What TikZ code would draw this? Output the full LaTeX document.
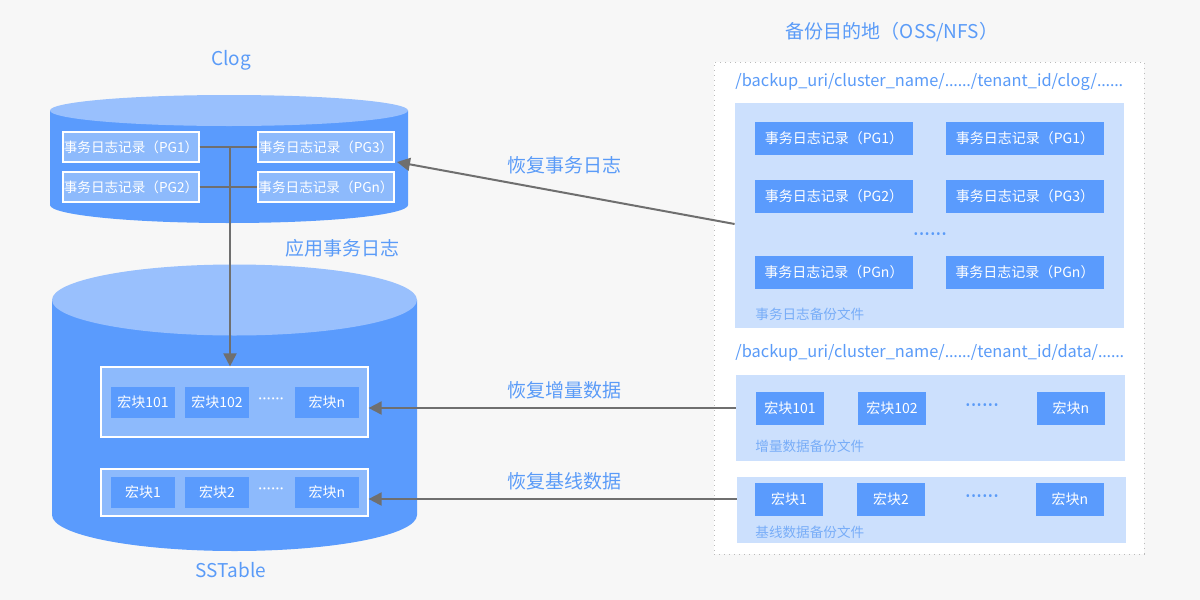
\documentclass[tikz,border=0pt]{standalone}
\usepackage{fontspec}
\setmainfont{Noto Sans CJK SC}
\newfontfamily\latinf{Noto Sans}
\usetikzlibrary{arrows.meta,calc}
\definecolor{bg}{HTML}{F7F7F7}
\definecolor{body}{HTML}{5A9BFD}
\definecolor{topc}{HTML}{99C0FD}
\definecolor{inner}{HTML}{8DBAFC}
\definecolor{pale}{HTML}{CCE0FD}
\definecolor{txtblue}{HTML}{5A9BF8}
\definecolor{lbl}{HTML}{78ADF8}
\definecolor{arr}{HTML}{6F6F6F}
\definecolor{dotb}{HTML}{BBBBBB}
\newcommand{\myell}{{\latinf ……}}
\tikzset{
  rec/.style={draw=white, line width=0.6pt, fill=inner, text=white, minimum width=68pt, minimum height=15pt, inner sep=0pt, font=\fontsize{6.8}{8}\selectfont},
  grp/.style={draw=white, line width=0.6pt, fill=inner, minimum width=133.5pt, inner sep=0pt},
  blk/.style={fill=body, text=white, minimum width=32pt, minimum height=15.5pt, inner sep=0pt, font=\fontsize{7}{8}\selectfont},
  rblk/.style={fill=body, text=white, minimum width=34pt, minimum height=16.5pt, inner sep=0pt, font=\fontsize{7}{8}\selectfont},
  rrec/.style={fill=body, text=white, minimum width=79pt, minimum height=16.5pt, inner sep=0pt, font=\fontsize{7}{8}\selectfont},
  pbox/.style={fill=pale, minimum width=194.5pt, inner sep=0pt},
  biglbl/.style={text=txtblue, inner sep=0pt, font=\fontsize{9.5}{11}\selectfont},
  pathtxt/.style={text=txtblue, inner sep=0pt, anchor=west, font=\fontsize{8.2}{9}\selectfont},
  smlbl/.style={text=lbl, inner sep=0pt, anchor=west, font=\fontsize{6.8}{8}\selectfont},
  wdots/.style={text=white, inner sep=0pt, font=\latinf\fontsize{8}{9}\selectfont},
  bdots/.style={text=txtblue, inner sep=0pt, font=\latinf\fontsize{10.5}{11}\selectfont},
  conn/.style={draw=arr, line width=1pt},
  arrow/.style={conn, -{Triangle[length=6.5pt,width=6.5pt]}},
}
\begin{document}
\begin{tikzpicture}[x=0.5pt,y=-0.5pt]
\useasboundingbox (0,0) rectangle (1200,600);
\fill[bg] (0,0) rectangle (1200,600);

% ---------- Clog cylinder ----------
\node[biglbl] (clogt) at (231,60) {Clog};
\fill[body] (50,110.5) -- (50,205) arc[start angle=180,end angle=360,x radius=89.5pt,y radius=9pt] -- (408,110.5) -- cycle;
\fill[topc] (229,110.5) ellipse[x radius=89.5pt,y radius=7.75pt];
\node[rec] (cpg1) at (131,147) {事务日志记录（PG1）};
\node[rec] (cpg2) at (131,187) {事务日志记录（PG2）};
\node[rec] (cpg3) at (326,147) {事务日志记录（PG3）};
\node[rec] (cpgn) at (326,187) {事务日志记录（PGn）};

% ---------- SSTable cylinder ----------
\fill[body] (52,300) -- (52,515) arc[start angle=180,end angle=360,x radius=91.25pt,y radius=18pt] -- (417,300) -- cycle;
\fill[topc] (234.5,300) ellipse[x radius=91.25pt,y radius=17.75pt];
\node[biglbl] (sst) at (231,570) {SSTable};
\node[biglbl] (apply) at (342,248) {应用事务日志};

\node[grp, minimum height=35pt] (inc) at (234.5,402) {};
\node[blk] (i1) at (143,402.5) {宏块101};
\node[blk] (i2) at (217,402.5) {宏块102};
\node[wdots] (id) at (271,401) {······};
\node[blk] (in) at (327,402.5) {宏块n};

\node[grp, minimum height=23.5pt] (base) at (234.5,492.5) {};
\node[blk] (b1) at (143,492.5) {宏块1};
\node[blk] (b2) at (217,492.5) {宏块2};
\node[wdots] (bd) at (271,491) {······};
\node[blk] (bn) at (327,492.5) {宏块n};

% ---------- right panel ----------
\node[biglbl] (dest) at (892,32) {备份目的地（OSS/NFS）};
\node[draw=dotb, dotted, line width=0.5pt, fill=white, minimum width=215pt, minimum height=246pt, inner sep=0pt] (panel) at (929,308) {};
\node[pathtxt] (p1) at (735,82) {/backup\_uri/cluster\_name/\myell/tenant\_id/clog/\myell};
\node[pbox, minimum height=112.5pt] (clogbk) at (929.5,215.5) {};
\node[rrec] (r1) at (834,138.5) {事务日志记录（PG1）};
\node[rrec] (r2) at (1025,138.5) {事务日志记录（PG1）};
\node[rrec] (r3) at (834,196.5) {事务日志记录（PG2）};
\node[rrec] (r4) at (1025,196.5) {事务日志记录（PG3）};
\node[bdots] (rd) at (930,237) {······};
\node[rrec] (r5) at (834,272.5) {事务日志记录（PGn）};
\node[rrec] (r6) at (1025,272.5) {事务日志记录（PGn）};
\node[smlbl] (l1) at (755,314) {事务日志备份文件};

\node[pathtxt] (p2) at (735,353) {/backup\_uri/cluster\_name/\myell/tenant\_id/data/\myell};
\node[pbox, minimum height=43pt] (incbk) at (930.5,418) {};
\node[rblk] (ri1) at (790,408.5) {宏块101};
\node[rblk] (ri2) at (892,408.5) {宏块102};
\node[bdots] (rid) at (982,408.5) {······};
\node[rblk] (rin) at (1071,408.5) {宏块n};
\node[smlbl] (l2) at (755,446) {增量数据备份文件};

\node[pbox, minimum height=33pt] (basebk) at (931.5,510) {};
\node[rblk] (rb1) at (789,499.5) {宏块1};
\node[rblk] (rb2) at (891,499.5) {宏块2};
\node[bdots] (rbd) at (982,499.5) {······};
\node[rblk] (rbn) at (1070,499.5) {宏块n};
\node[smlbl] (l3) at (755,532) {基线数据备份文件};

% ---------- connectors ----------
\coordinate (jt) at (230,147);
\draw[conn] (cpg1.east) -- (cpg3.west);
\draw[conn] (cpg2.east) -- (cpgn.west);
\draw[arrow] (jt) -- (jt |- inc.north);

\coordinate (rtip) at (397,162);
\draw[arrow] (clogbk.west |- 0,224) -- (rtip);
\draw[arrow] (incbk.west |- 0,408) -- (inc.east |- 0,408);
\draw[arrow] (basebk.west |- 0,499) -- (base.east |- 0,499);

\node[biglbl] (lr1) at (564,165) {恢复事务日志};
\node[biglbl] (lr2) at (564,390) {恢复增量数据};
\node[biglbl] (lr3) at (564,481) {恢复基线数据};
\end{tikzpicture}
\end{document}
